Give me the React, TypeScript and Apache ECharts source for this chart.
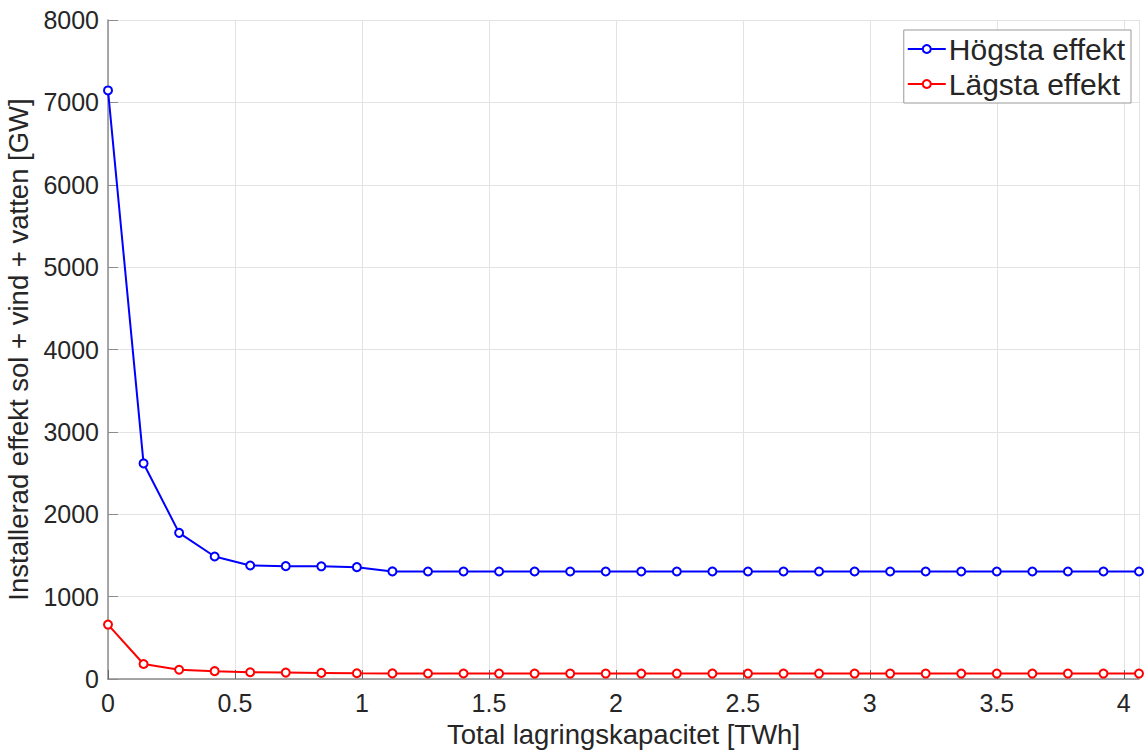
import React, { useEffect, useRef } from "react";
import * as echarts from "echarts";

const xValues = [0, 0.14, 0.28, 0.42, 0.56, 0.7, 0.84, 0.98, 1.12, 1.26, 1.4, 1.54, 1.68, 1.82, 1.96, 2.1, 2.24, 2.38, 2.52, 2.66, 2.8, 2.94, 3.08, 3.22, 3.36, 3.5, 3.64, 3.78, 3.92, 4.06];
const highest = [7145, 2617, 1774, 1487, 1378, 1370, 1368, 1358, 1306, 1305, 1305, 1305, 1305, 1305, 1305, 1305, 1305, 1305, 1305, 1305, 1305, 1305, 1305, 1305, 1305, 1305, 1305, 1305, 1305, 1305];
const lowest = [661, 182, 112, 95, 82, 78, 74, 70, 68, 67, 67, 66, 66, 66, 66, 66, 66, 66, 66, 66, 66, 66, 66, 66, 66, 66, 66, 66, 66, 66];
const seriesNames = ["Högsta effekt", "Lägsta effekt"];

export default function App() {
  const ref = useRef<HTMLDivElement>(null);
  useEffect(() => {
    document.body.style.margin = "0";
    const chart = echarts.init(ref.current!, null, { renderer: "svg" });
    const font = "Helvetica, Arial, 'Liberation Sans', sans-serif";
    chart.setOption({
      animation: false,
      backgroundColor: "#ffffff",
      textStyle: { fontFamily: font },
      grid: { left: 108, right: 9, top: 20, bottom: 72, outerBoundsMode: "none" },
      legend: {
        orient: "vertical",
        right: 17,
        top: 30,
        itemWidth: 38,
        itemHeight: 10,
        itemGap: 5,
        padding: [4, 6, 4, 3],
        borderColor: "#999999",
        borderWidth: 1,
        borderRadius: 0,
        backgroundColor: "#ffffff",
        textStyle: { fontSize: 30, color: "#262626", fontFamily: font, padding: [0, 0, 0, -2] },
        data: seriesNames,
      },
      xAxis: {
        type: "value",
        min: 0,
        max: 4.06,
        interval: 0.5,
        name: "Total lagringskapacitet [TWh]",
        nameLocation: "middle",
        nameGap: 41,
        nameTextStyle: { fontSize: 27.5, color: "#262626", fontFamily: font },
        axisLine: { show: true, lineStyle: { color: "#8c8c8c", width: 1.5 } },
        axisTick: { show: true, inside: true, length: 9, lineStyle: { color: "#666" } },
        axisLabel: {
          fontSize: 25,
          color: "#262626",
          margin: 11,
          showMaxLabel: false,
          formatter: (v: number) => (Math.abs(v / 0.5 - Math.round(v / 0.5)) < 1e-6 ? String(v) : ""),
        },
        splitLine: { show: true, lineStyle: { color: "#e3e3e3", width: 1 } },
      },
      yAxis: {
        type: "value",
        min: 0,
        max: 8000,
        interval: 1000,
        name: "Installerad effekt sol + vind + vatten [GW]",
        nameLocation: "middle",
        nameGap: 75,
        nameTextStyle: { fontSize: 27.5, color: "#262626", fontFamily: font },
        axisLine: { show: true, lineStyle: { color: "#8c8c8c", width: 1.5 } },
        axisTick: { show: true, inside: true, length: 10, lineStyle: { color: "#8c8c8c" } },
        axisLabel: { fontSize: 25, color: "#262626", margin: 9, formatter: (v: number) => String(v) },
        splitLine: { show: true, lineStyle: { color: "#e3e3e3", width: 1 } },
      },
      series: [
        {
          name: seriesNames[0],
          type: "line",
          data: xValues.map((x, i) => [x, highest[i]]),
          symbol: "emptyCircle",
          symbolSize: 8,
          lineStyle: { color: "#0000ff", width: 2 },
          itemStyle: { color: "#0000ff", borderWidth: 2 },
          clip: false,
        },
        {
          name: seriesNames[1],
          type: "line",
          data: xValues.map((x, i) => [x, lowest[i]]),
          symbol: "emptyCircle",
          symbolSize: 8,
          lineStyle: { color: "#ff0000", width: 2 },
          itemStyle: { color: "#ff0000", borderWidth: 2 },
          clip: false,
        },
      ],
    });
    return () => chart.dispose();
  }, []);
  return <div ref={ref} style={{ width: 1148, height: 751 }} />;
}
